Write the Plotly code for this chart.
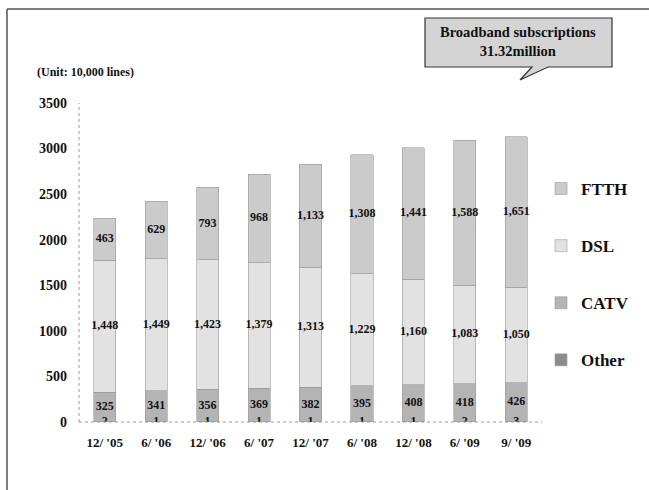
import plotly.graph_objects as go

categories = ["12/ '05", "6/ '06", "12/ '06", "6/ '07", "12/ '07", "6/ '08", "12/ '08", "6/ '09", "9/ '09"]
other = [2, 1, 1, 1, 1, 1, 1, 2, 3]
catv = [325, 341, 356, 369, 382, 395, 408, 418, 426]
dsl = [1448, 1449, 1423, 1379, 1313, 1229, 1160, 1083, 1050]
ftth = [463, 629, 793, 968, 1133, 1308, 1441, 1588, 1651]
y_ticks = [0, 500, 1000, 1500, 2000, 2500, 3000, 3500]
unit_label = "(Unit: 10,000 lines)"
callout_lines = ["Broadband subscriptions", "31.32million"]

FONT = "Liberation Serif, Times New Roman, serif"
series = [
    ("Other", other, "#8c8c8c", 4),
    ("CATV", catv, "#b4b4b4", 3),
    ("DSL", dsl, "#e2e2e2", 2),
    ("FTTH", ftth, "#cbcbcb", 1),
]

fig = go.Figure()
for name, vals, col, rank in series:
    fig.add_trace(go.Bar(
        x=categories, y=vals, name=name, legendgroup=name, legendrank=rank,
        marker=dict(color=col, line=dict(color="#9a9a9a", width=0.6)),
        hoverinfo="x+y+name",
    ))

# data labels at segment centres
base = [0] * len(categories)
for name, vals, col, rank in series:
    if name == "Other":
        ys = [0 for _ in vals]
    else:
        ys = [b + v / 2 for b, v in zip(base, vals)]
    fig.add_trace(go.Scatter(
        x=categories, y=ys, mode="text", text=[f"{v:,}" for v in vals],
        textposition="middle center", showlegend=False, hoverinfo="skip",
        textfont=dict(family=FONT, size=12, color="#111", weight="bold"),
    ))
    base = [b + v for b, v in zip(base, vals)]

L, R, T, B = 79, 107, 103, 68
W, H = 649, 490
PW, PH = W - L - R, H - T - B

def px(x):
    return (x - L) / PW

def py(y):
    return (H - B - y) / PH

shapes = [
    # page frame
    dict(type="line", xref="paper", yref="paper", x0=px(7), x1=px(649), y0=py(9), y1=py(9),
         line=dict(color="#555", width=1.5)),
    dict(type="line", xref="paper", yref="paper", x0=px(7), x1=px(7), y0=py(9), y1=py(490),
         line=dict(color="#555", width=1.5)),
    # dotted axes
    dict(type="line", xref="paper", yref="paper", x0=0, x1=0, y0=0, y1=1,
         line=dict(color="#999", width=1, dash="dot")),
    dict(type="line", xref="paper", yref="paper", x0=0, x1=1, y0=0, y1=0,
         line=dict(color="#999", width=1, dash="dot")),
    # callout box with tail
    dict(type="path", xref="paper", yref="paper",
         path=(f"M {px(425)},{py(18)} L {px(612)},{py(18)} L {px(612)},{py(67)} "
               f"L {px(548)},{py(67)} L {px(520)},{py(80)} L {px(532)},{py(67)} "
               f"L {px(425)},{py(67)} Z"),
         fillcolor="#d4d4d4", line=dict(color="#333", width=1.2), layer="above"),
]

annotations = [
    dict(text=unit_label, xref="paper", yref="paper", x=px(35), y=py(72),
         xanchor="left", yanchor="middle", showarrow=False,
         font=dict(family=FONT, size=12, color="#111", weight="bold")),
    dict(text="<br>".join(callout_lines), xref="paper", yref="paper",
         x=px(518), y=py(41), xanchor="center", yanchor="middle", showarrow=False,
         font=dict(family=FONT, size=14.5, color="#111", weight="bold")),
]

fig.update_layout(
    width=W, height=H, autosize=False,
    margin=dict(l=L, r=R, t=T, b=B, pad=0),
    paper_bgcolor="white", plot_bgcolor="white",
    barmode="stack", bargap=0.57,
    showlegend=True,
    legend=dict(x=px(541), y=py(171), xanchor="left", yanchor="top",
                traceorder="grouped", tracegroupgap=32,
                font=dict(family=FONT, size=17, color="#111", weight="bold"),
                itemwidth=30, bgcolor="rgba(0,0,0,0)"),
    shapes=shapes, annotations=annotations,
    xaxis=dict(showgrid=False, showline=False, zeroline=False, ticks="",
               tickfont=dict(family=FONT, size=13, color="#111", weight="bold"),
               ticklabelstandoff=11),
    yaxis=dict(range=[0, 3500], tickvals=y_ticks, showgrid=False, showline=False,
               zeroline=False, ticks="",
               tickfont=dict(family=FONT, size=14, color="#111", weight="bold"),
               ticklabelstandoff=11),
)

fig.write_html("out.html")
